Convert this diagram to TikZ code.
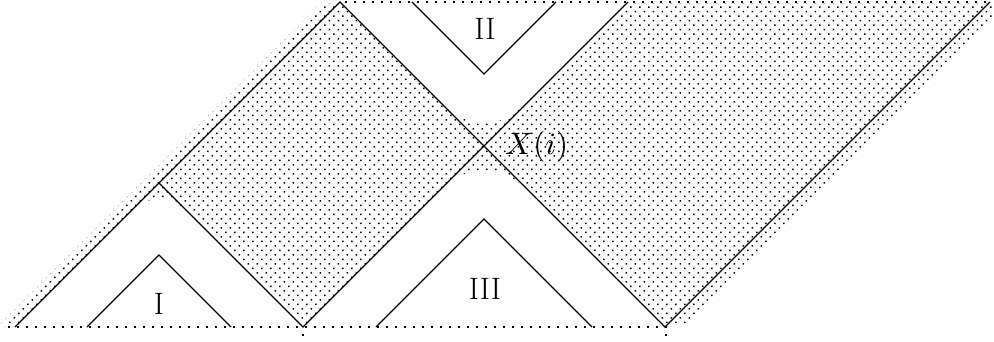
\documentclass[tikz,border=0pt]{standalone}
\usepackage{graphicx}
\usetikzlibrary{patterns}
\pgfdeclarepatternformonly{qdots}{\pgfqpoint{-0.5pt}{-0.5pt}}{\pgfqpoint{9.5pt}{9.5pt}}{\pgfqpoint{9pt}{9pt}}{%
  \pgfpathrectangle{\pgfqpoint{0pt}{0pt}}{\pgfqpoint{1.5pt}{1.5pt}}%
  \pgfpathrectangle{\pgfqpoint{4.5pt}{4.5pt}}{\pgfqpoint{1.5pt}{1.5pt}}%
  \pgfusepath{fill}}
\begin{document}
\begin{tikzpicture}[x=1pt,y=-1pt,
  edge/.style={draw=black, line width=1.3pt, line join=miter},
  dotline/.style={draw=black, line width=1.5pt, dash pattern=on 1.5pt off 7.5pt},
  shaded/.style={pattern=qdots, pattern color=black},
  lbl/.style={font=\fontsize{31}{36}\selectfont, inner sep=0pt},
  mlbl/.style={inner sep=0pt}]
\useasboundingbox (0,0) rectangle (994,341);
% main vertices
\coordinate (A)  at (15,327);
\coordinate (T1) at (340,2);
\coordinate (Lk) at (159,183);
\coordinate (B1) at (303,327);
\coordinate (X)  at (484,146);
\coordinate (T2) at (628,2);
\coordinate (B2) at (665,327);
\coordinate (T3) at (990,2);
% small triangles
\coordinate (Ia) at (159,255);
\coordinate (Il) at (87,327);
\coordinate (Ir) at (231,327);
\coordinate (IIIa) at (484,219);
\coordinate (IIIl) at (376,327);
\coordinate (IIIr) at (592,327);
\coordinate (IIv) at (484,74);
\coordinate (IIl) at (412,2);
\coordinate (IIr) at (556,2);
% shading
\fill[shaded] (321,3) -- (1006,3) -- (683,326) -- (-2,326) -- cycle;
\fill[white] (14,328) -- (127,215) .. controls (148.33,193.67) and (169.67,193.67) .. (191,215) -- (304,328) -- cycle;
\fill[white] (339,1) -- (438,100) .. controls (468.67,130.67) and (499.33,130.67) .. (530,100) -- (629,1) -- cycle;
\fill[white] (302,328) -- (436,194) .. controls (468,162) and (500,162) .. (532,194) -- (666,328) -- cycle;
% dotted edges
\draw[dotline] (8,327) -- (668,327);
\draw[dotline] (345,2) -- (993,2);
\draw[dotline] (303,334) -- (303,341);
\draw[dotline] (666,334) -- (666,341);
% lines
\draw[edge] (A) -- (T1) -- (B2) -- (T3);
\draw[edge] (Lk) -- (B1) -- (T2);
\draw[edge] (Il) -- (Ia) -- (Ir);
\draw[edge] (IIIl) -- (IIIa) -- (IIIr);
\draw[edge] (IIl) -- (IIv) -- (IIr);
% labels
\node[lbl] (lI) at (159,304) {I};
\node[lbl] (lII) at (485,29) {II};
\node[lbl] (lIII) at (485,289) {III};
\node[mlbl, anchor=west] (lX) at (505,147) {\scalebox{3.1}{$X(i)$}};
\end{tikzpicture}
\end{document}
